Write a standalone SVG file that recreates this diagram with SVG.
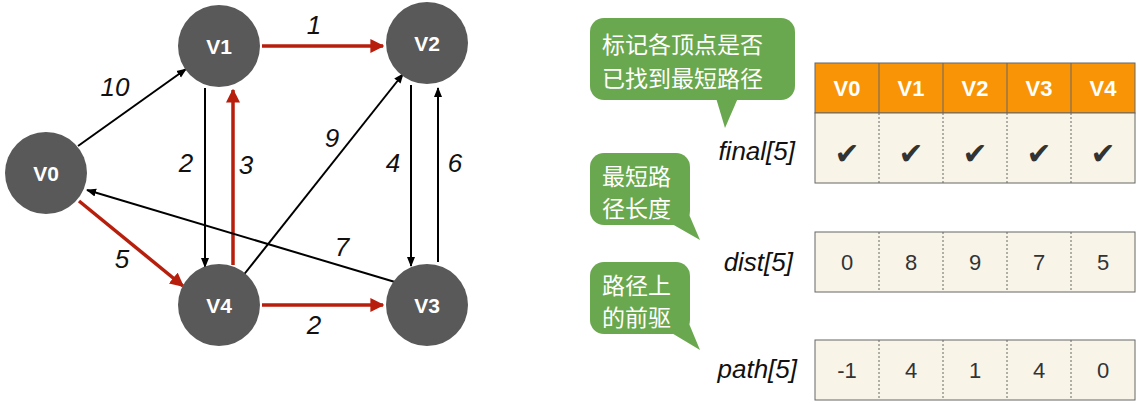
<svg xmlns="http://www.w3.org/2000/svg" width="1141" height="404" viewBox="0 0 1141 404">
<defs>
<marker id="ab" viewBox="0 0 10 10" refX="9" refY="5" markerWidth="5" markerHeight="5" orient="auto"><path d="M0,1 L10,5 L0,9 z" fill="#000"/></marker>
<marker id="ar" viewBox="0 0 10 10" refX="9" refY="5" markerWidth="4" markerHeight="4" orient="auto"><path d="M0,0 L10,5 L0,10 z" fill="#b81e0c"/></marker>
</defs>
<style>
.n{fill:#595959}
.nt{fill:#fff;font:bold 21px "Liberation Sans",Arial,sans-serif;text-anchor:middle}
.b{stroke:#000;stroke-width:2;fill:none;marker-end:url(#ab)}
.r{stroke:#b81e0c;stroke-width:3.5;fill:none;marker-end:url(#ar)}
.w{font:italic 26px "Liberation Sans",Arial,sans-serif;text-anchor:middle;fill:#111}
.lb{font:italic 26px "Liberation Sans",Arial,sans-serif;text-anchor:end;fill:#111}
.h{fill:#f89406;stroke:#666;stroke-width:1}
.c{fill:#f8f5e8;stroke:#666;stroke-width:1}
.ht{fill:#fff;font:bold 22px "Liberation Sans",Arial,sans-serif;text-anchor:middle}
.ct{fill:#333;font:22px "Liberation Sans",Arial,sans-serif;text-anchor:middle}
.ck{fill:#333;font:bold 30px "DejaVu Sans",sans-serif;text-anchor:middle}
.g{fill:#6aa84f}
.gt{fill:#fff;font:23px "Noto Sans CJK SC",sans-serif}
.d{stroke:#666;stroke-width:1;stroke-dasharray:2,2}
</style>
<g id="connectors">
<line class="b" x1="78" y1="146" x2="186" y2="69"/>
<line class="r" x1="262" y1="46" x2="383" y2="46"/>
<line class="b" x1="205" y1="88" x2="205" y2="267"/>
<line class="r" x1="233" y1="265" x2="233" y2="90"/>
<line class="b" x1="242" y1="277" x2="403" y2="74"/>
<line class="b" x1="395" y1="282" x2="87" y2="190"/>
<line class="r" x1="79" y1="201" x2="183" y2="286"/>
<line class="r" x1="262" y1="305" x2="383" y2="305"/>
<line class="b" x1="411" y1="85" x2="411" y2="266"/>
<line class="b" x1="438" y1="262" x2="438" y2="88"/>
<text class="w" x="115" y="96">10</text>
<text class="w" x="314" y="34">1</text>
<text class="w" x="186" y="172">2</text>
<text class="w" x="246" y="174">3</text>
<text class="w" x="332" y="147">9</text>
<text class="w" x="393" y="172">4</text>
<text class="w" x="455" y="172">6</text>
<text class="w" x="342" y="256">7</text>
<text class="w" x="122" y="268">5</text>
<text class="w" x="314" y="334">2</text>
</g>
<g id="V0"><circle class="n" cx="46" cy="173" r="41"/><text class="nt" x="46" y="181">V0</text></g>
<g id="V1"><circle class="n" cx="219" cy="46" r="41"/><text class="nt" x="219" y="54">V1</text></g>
<g id="V2"><circle class="n" cx="427" cy="43" r="41"/><text class="nt" x="427" y="51">V2</text></g>
<g id="V3"><circle class="n" cx="427" cy="305" r="41"/><text class="nt" x="427" y="313">V3</text></g>
<g id="V4"><circle class="n" cx="219" cy="305" r="41"/><text class="nt" x="219" y="313">V4</text></g>
<g id="final">
<rect class="h" x="815" y="63" width="320" height="50"/>
<rect class="c" x="815" y="113" width="320" height="70"/>
<line x1="879" y1="63" x2="879" y2="113" stroke="#666"/><line x1="943" y1="63" x2="943" y2="113" stroke="#666"/><line x1="1007" y1="63" x2="1007" y2="113" stroke="#666"/><line x1="1071" y1="63" x2="1071" y2="113" stroke="#666"/>
<line class="d" x1="879" y1="113" x2="879" y2="183"/><line class="d" x1="943" y1="113" x2="943" y2="183"/><line class="d" x1="1007" y1="113" x2="1007" y2="183"/><line class="d" x1="1071" y1="113" x2="1071" y2="183"/>
<text class="ht" x="847" y="96">V0</text><text class="ht" x="911" y="96">V1</text><text class="ht" x="975" y="96">V2</text><text class="ht" x="1039" y="96">V3</text><text class="ht" x="1103" y="96">V4</text>
<text class="ck" x="847" y="164">✔</text><text class="ck" x="911" y="164">✔</text><text class="ck" x="975" y="164">✔</text><text class="ck" x="1039" y="164">✔</text><text class="ck" x="1103" y="164">✔</text>
<text class="lb" x="795" y="160">final[5]</text>
</g>
<g id="dist">
<rect class="c" x="815" y="232" width="320" height="60"/>
<line class="d" x1="879" y1="232" x2="879" y2="292"/><line class="d" x1="943" y1="232" x2="943" y2="292"/><line class="d" x1="1007" y1="232" x2="1007" y2="292"/><line class="d" x1="1071" y1="232" x2="1071" y2="292"/>
<text class="ct" x="847" y="270">0</text><text class="ct" x="911" y="270">8</text><text class="ct" x="975" y="270">9</text><text class="ct" x="1039" y="270">7</text><text class="ct" x="1103" y="270">5</text>
<text class="lb" x="793" y="271">dist[5]</text>
</g>
<g id="path">
<rect class="c" x="815" y="340" width="320" height="60"/>
<line class="d" x1="879" y1="340" x2="879" y2="400"/><line class="d" x1="943" y1="340" x2="943" y2="400"/><line class="d" x1="1007" y1="340" x2="1007" y2="400"/><line class="d" x1="1071" y1="340" x2="1071" y2="400"/>
<text class="ct" x="847" y="378">-1</text><text class="ct" x="911" y="378">4</text><text class="ct" x="975" y="378">1</text><text class="ct" x="1039" y="378">4</text><text class="ct" x="1103" y="378">0</text>
<text class="lb" x="797" y="378">path[5]</text>
</g>
<g id="bubble1">
<rect class="g" x="590" y="18" width="205" height="82" rx="14"/>
<path class="g" d="M716,98 L725,128 L738,98 z"/>
<text class="gt" x="602" y="53">标记各顶点是否</text>
<text class="gt" x="602" y="87">已找到最短路径</text>
</g>
<g id="bubble2">
<rect class="g" x="590" y="153" width="100" height="72" rx="14"/>
<path class="g" d="M665,220 L700,240 L685,205 z"/>
<text class="gt" x="602" y="185">最短路</text>
<text class="gt" x="602" y="217">径长度</text>
</g>
<g id="bubble3">
<rect class="g" x="590" y="262" width="100" height="72" rx="14"/>
<path class="g" d="M665,329 L700,350 L685,314 z"/>
<text class="gt" x="602" y="294">路径上</text>
<text class="gt" x="602" y="326">的前驱</text>
</g>
</svg>
